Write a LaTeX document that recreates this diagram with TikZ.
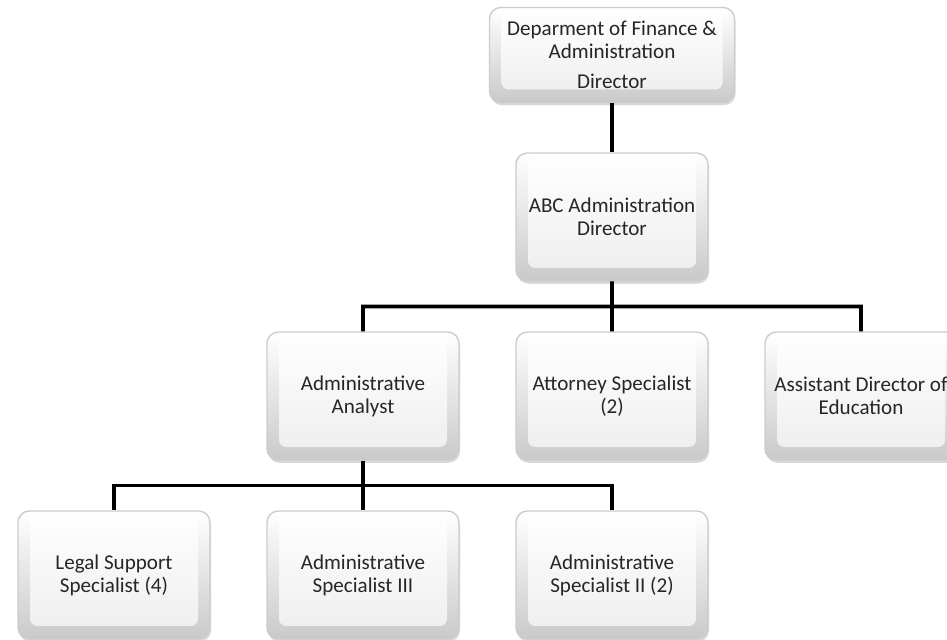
\documentclass[tikz,border=0pt]{standalone}
\usepackage{fontspec}
\setmainfont{Carlito}
\usetikzlibrary{positioning,calc,shadows}

\tikzset{
  post/.style={rounded corners=6.5pt, draw=gray!40, line width=0.8pt,
    top color=white, bottom color=gray!42,
    minimum width=3.84cm, minimum height=2.56cm, align=center,
    font=\fontsize{12}{13}\selectfont, text=black!85,
    drop shadow={shadow xshift=0.6pt, shadow yshift=-1.6pt, opacity=0.3},
    path picture={
      \shade[top color=white, bottom color=gray!14, rounded corners=4pt]
        ([shift={(0.24,-0.06)}]path picture bounding box.north west) rectangle
        ([shift={(-0.24,0.26)}]path picture bounding box.south east);}},
  link/.style={line width=2.2pt, black},
  fork/.style={to path={-- ($(\tikztostart)!0.5!(\tikztostart |- \tikztotarget)$) -| (\tikztotarget)}}
}

\begin{document}
\begin{tikzpicture}[node distance=3.58cm and 4.98cm, on grid]
  \useasboundingbox (0,0) rectangle (18.94,12.8);

  \node[post, minimum width=4.9cm, minimum height=1.9cm] (dir) at (12.24,11.7)
    {Deparment of Finance \&\\ Administration\\[4pt] Director};
  \node[post] (abc) [below=3.24cm of dir] {ABC Administration\\ Director};

  \node[post] (analyst)   [below left=of abc]  {Administrative\\ Analyst};
  \node[post] (attorney)  [below=of abc]       {Attorney Specialist\\ (2)};
  \node[post] (assistant) [below right=of abc] {Assistant Director of\\ Education};

  \node[post] (spec3) [below=of analyst] {Administrative\\ Specialist III};
  \node[post] (legal) [left=of spec3]    {Legal Support\\ Specialist (4)};
  \node[post] (spec2) [right=of spec3]   {Administrative\\ Specialist II (2)};

  % reporting lines
  \draw[link] (dir) -- (abc);
  \draw[link] (abc.south) edge[fork] (analyst.north)
                          edge[fork] (attorney.north)
                          edge[fork] (assistant.north);
  \draw[link] (analyst.south) edge[fork] (legal.north)
                              edge[fork] (spec3.north)
                              edge[fork] (spec2.north);
\end{tikzpicture}
\end{document}
